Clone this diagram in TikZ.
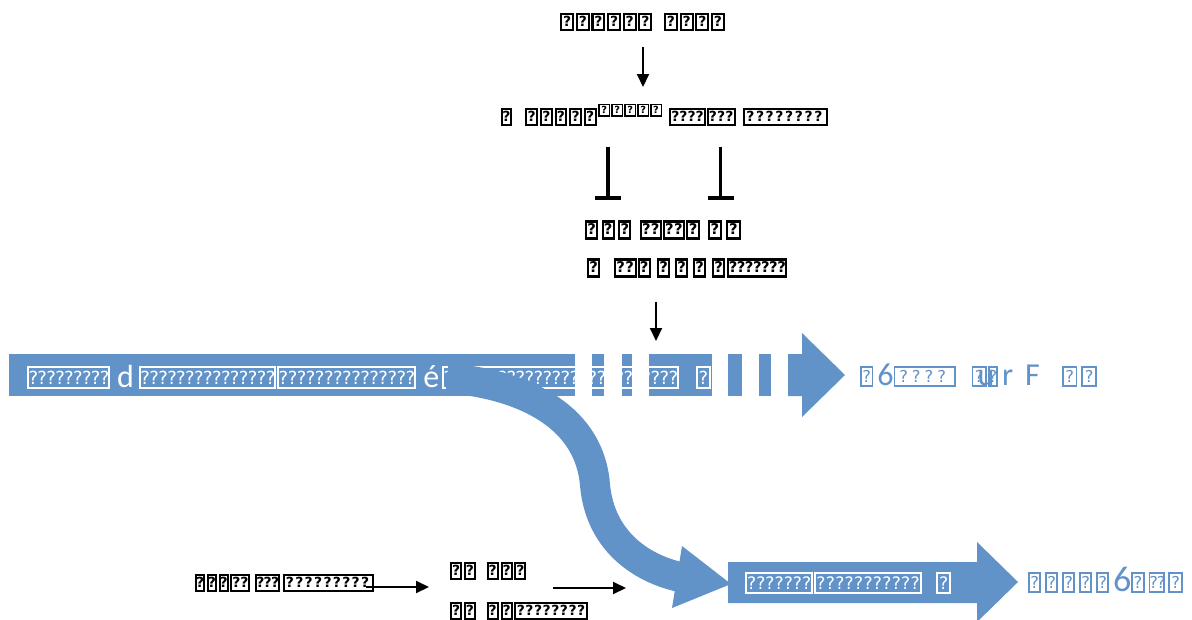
\documentclass[tikz,border=0pt]{standalone}
\usepackage{fontspec}
\setmainfont{DejaVu Sans}
\newfontfamily\carl{Carlito}
\usepackage{graphicx}
\usetikzlibrary{arrows.meta}
\definecolor{bandblue}{RGB}{98,147,200}

% missing-glyph boxes, as the reference prints them
\newcommand\qq{\raisebox{0.13em}{\scalebox{0.82}{?}}}
\newcommand\tgap{0.2em}
\newcommand\tofurule{0.09em}
\newcommand\tofubox[3]{{\setlength\fboxsep{0pt}\setlength\fboxrule{\tofurule}%
  \fbox{\makebox[\dimexpr#1em+0.16em-2\fboxrule\relax][s]{\rule[-0.02em]{0pt}{\dimexpr1.06em-2\fboxrule\relax}\hss#2\hss}}}\kern#3}
\newcommand\T[1][0.56]{\tofubox{#1}{\qq}{\tgap}}
\def\tcscan#1{\ifx#1\relax\else\qq\hss\expandafter\tcscan\fi}
\newcommand\TC[2]{\tofubox{#1}{\tcscan#2\relax}{0.05em}}
\newcommand\Lt[2]{{\carl\fontsize{#1}{#1}\selectfont #2}}

\tikzset{
  blk/.style={inner sep=0pt, anchor=base west, font=\bfseries\fontsize{17}{17}\selectfont\renewcommand\tofurule{0.12em}},
  blk18/.style={inner sep=0pt, anchor=base west, font=\bfseries\fontsize{18}{18}\selectfont\renewcommand\tofurule{0.12em}},
  wht/.style={inner sep=0pt, anchor=base west, text=white, font=\fontsize{22}{22}\selectfont},
  blu/.style={inner sep=0pt, anchor=base west, text=bandblue, font=\fontsize{20}{20}\selectfont},
  arr/.style={line width=2pt, -{Triangle[width=12pt,length=13pt]}},
  inh/.style={line width=3.5pt, -{Bar[width=26pt,line width=4pt]}},
  bandfill/.style={fill=bandblue, draw=none},
}

\begin{document}
\begin{tikzpicture}[x=1pt,y=-1pt]
\useasboundingbox (0,0) rectangle (1192,619);

% ---------- top part ----------
\node[blk] (top) at (560,29) {\renewcommand\tgap{0.1em}\T[0.66]\T[0.66]\T[0.66]\T[0.66]\T[0.66]\T[0.66]\kern10pt\T[0.66]\T[0.66]\T[0.66]\T[0.66]};
\node[blk] (mid) at (501,124) {\renewcommand\tgap{0.1em}\T[0.45]\kern12pt\T[0.6]\T[0.6]\T[0.6]\T[0.6]\T[0.6]%
  \raisebox{9pt}{\fontsize{12}{12}\selectfont\T[0.82]\T[0.82]\T[0.82]\T[0.82]\T[0.82]}%
  \kern6pt\TC{2.0}{????}\TC{1.55}{???}\kern6pt\TC{4.84}{????????}};
\node[blk18] (l3) at (585,237) {\T\T\T\kern5pt\TC{1.06}{??}\TC{1.1}{??}\T[0.6]\kern4pt\T[0.64]\T[0.7]};
\node[blk18] (l4) at (587,275) {\T\kern10pt\TC{1.12}{??}\T\kern3pt\T\kern1.4pt\T\kern1.4pt\T\kern2.4pt\T\kern-1.6pt\TC{3.17}{???????}};

\coordinate (a1s) at (643,47);   \coordinate (a1e) at (643,87);
\coordinate (b1s) at (608,147);  \coordinate (b1e) at (608,200);
\coordinate (b2s) at (720.5,147);\coordinate (b2e) at (720.5,200);
\coordinate (a2s) at (656,302);  \coordinate (a2e) at (656,341);
\draw[arr] (a1s) -- (a1e);
\draw[inh] (b1s) -- (b1e);
\draw[inh] (b2s) -- (b2e);
\draw[arr] (a2s) -- (a2e);

% ---------- band with dashed end ----------
\path[bandfill] (9,354) rectangle (575,396);
\path[bandfill] (592,354) rectangle (604,396);
\path[bandfill] (622,354) rectangle (632,396);
\path[bandfill] (649,354) rectangle (712,396);
\path[bandfill] (728,354) rectangle (742,396);
\path[bandfill] (759,354) rectangle (771,396);
\path[bandfill] (788,354) -- (802,354) -- (802,333) -- (845,375) -- (802,417) -- (802,396) -- (788,396) -- cycle;

\node[wht] (band) at (27,387) {\TC{3.61}{?????????}\kern6pt\Lt{32}{d}\kern5pt\TC{6.07}{???????????????}\TC{6.16}{???????????????}\kern6pt\Lt{32}{é}\kern3pt\TC{10.6}{??????????????????????????}\kern16pt\T[0.5]};

\node[blu] (right) at (860,385) {\T[0.5]\Lt{32}{6}\TC{2.94}{????}\kern15pt\rlap{\kern6pt\Lt{32}{u}}\T[0.6]\kern-3pt\T[0.35]\Lt{32}{r}\kern12pt\Lt{32}{F}\kern22pt\T[0.62]\T[0.62]};

% ---------- curved branch ----------
\draw[bandblue, line width=30pt] (447,378) .. controls (530,385) and (590,420) .. (595,485)
      .. controls (600,540) and (640,568) .. (680,577);
\path[bandfill] (682,546) -- (731,584) -- (672,608) -- cycle;

% ---------- bottom arrow ----------
\path[bandfill] (728,562) -- (977,562) -- (977,542) -- (1018,582) -- (977,622) -- (977,603) -- (728,603) -- cycle;
\node[wht, font=\fontsize{21}{21}\selectfont] (barrow) at (745,592) {\TC{3.08}{???????}\TC{4.98}{???????????}\kern13pt\T[0.55]};
\node[blu] (bright) at (1028,591) {\T[0.49]\T[0.49]\T[0.49]\T[0.49]\T[0.49]\Lt{36}{6}\T[0.5]\TC{0.66}{??}\kern2pt\T[0.6]};

% ---------- bottom left ----------
\node[blk] (bl) at (195,590) {\renewcommand\tgap{0.1em}\T[0.43]\T[0.43]\T[0.43]\TC{1.0}{??}\kern4pt\TC{1.3}{???}\kern2pt\TC{5.2}{?????????}};
\node[blk] (bm1) at (450,578) {\renewcommand\tgap{0.1em}\T[0.55]\T[0.55]\kern9pt\T[0.55]\T[0.55]\T[0.55]};
\node[blk] (bm2) at (450,618) {\renewcommand\tgap{0.1em}\T[0.55]\T[0.55]\kern9pt\T[0.55]\T[0.55]\TC{4.2}{????????}};

\coordinate (a3s) at (366,587); \coordinate (a3e) at (429,587);
\coordinate (a4s) at (553,588); \coordinate (a4e) at (626,588);
\draw[arr] (a3s) -- (a3e);
\draw[arr] (a4s) -- (a4e);
\end{tikzpicture}
\end{document}
